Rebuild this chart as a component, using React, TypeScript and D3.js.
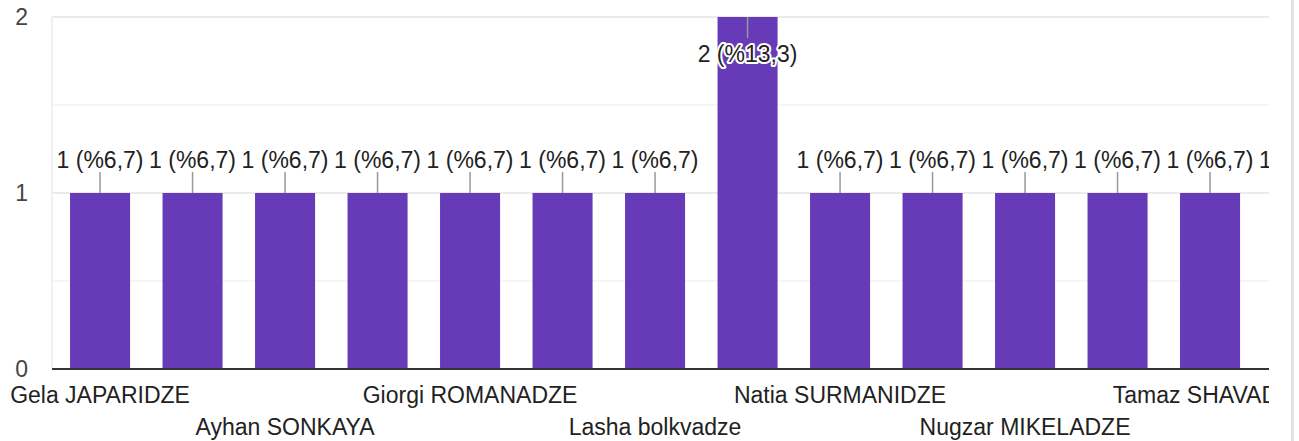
import React from "react";
import * as d3 from "d3";

const categories: string[] = [
  "Gela JAPARIDZE",
  "(2)",
  "Ayhan SONKAYA",
  "(4)",
  "Giorgi ROMANADZE",
  "(6)",
  "Lasha bolkvadze",
  "(8)",
  "Natia SURMANIDZE",
  "(10)",
  "Nugzar MIKELADZE",
  "(12)",
  "Tamaz SHAVADZE",
  "(14)",
];
const values: number[] = [1, 1, 1, 1, 1, 1, 1, 2, 1, 1, 1, 1, 1, 1];
const yTicks: number[] = [0, 1, 2];
const yMinorTicks: number[] = [0.5, 1.5];

const W = 1299;
const H = 441;
const FONT = "'Liberation Sans', Arial, sans-serif";

export default function App() {
  const total = d3.sum(values);
  const plotLeft = 52;
  const clipRight = 1269;
  const x = d3
    .scaleBand<number>()
    .domain(values.map((_, i) => i))
    .range([plotLeft, plotLeft + 92.5 * (values.length - 0.351 + 2 * 0.195)])
    .paddingInner(0.351)
    .paddingOuter(0.195);
  const y = d3.scaleLinear().domain([0, 2]).range([369, 17]);
  const bw = x.bandwidth();

  const fmt = (v: number) =>
    `${v} (%${((v / total) * 100).toFixed(1).replace(".", ",")})`;

  const T = (props: any) => {
    const { x: tx, y: ty, children, anchor = "middle", fill = "#222", halo = false } = props;
    return (
      <text
        x={tx}
        y={ty}
        textAnchor={anchor}
        fontFamily={FONT}
        fontSize={23}
        fill={fill}
        stroke={halo ? "#fff" : "none"}
        strokeWidth={halo ? 4 : 0}
        strokeLinejoin="round"
        style={{ paintOrder: "stroke" }}
      >
        {children}
      </text>
    );
  };

  return (
    <svg
      width={W}
      height={H}
      style={{ position: "absolute", left: 0, top: 0, background: "#fff" }}
    >
      <defs>
        <clipPath id="plotclip">
          <rect x={0} y={0} width={clipRight} height={H} />
        </clipPath>
      </defs>
      <rect x={0} y={0} width={W} height={H} fill="#fff" />
      {/* right border */}
      <rect x={1291} y={0} width={3} height={H} fill="#e3e3e3" />

      {/* y tick labels */}
      {yTicks.map((t) => (
        <T key={"yt" + t} x={28} y={y(t) + 8} anchor="end" fill="#444">
          {t}
        </T>
      ))}

      <g clipPath="url(#plotclip)">
        {/* left vertical gridline */}
        <line x1={plotLeft} x2={plotLeft} y1={y(2)} y2={y(0)} stroke="#ebebeb" strokeWidth={1.5} />
        {/* minor gridlines */}
        {yMinorTicks.map((t) => (
          <line key={"mg" + t} x1={plotLeft} x2={W} y1={y(t)} y2={y(t)} stroke="#f3f3f3" strokeWidth={1.5} />
        ))}
        {/* major gridlines */}
        {yTicks
          .filter((t) => t !== 0)
          .map((t) => (
            <line key={"g" + t} x1={plotLeft} x2={W} y1={y(t)} y2={y(t)} stroke="#ebebeb" strokeWidth={2} />
          ))}

        {/* bars */}
        {values.map((v, i) => (
          <rect key={"b" + i} x={x(i)} y={y(v)} width={bw} height={y(0) - y(v)} fill="#673ab7" />
        ))}

        {/* baseline */}
        <line x1={plotLeft} x2={W} y1={y(0)} y2={y(0)} stroke="#333" strokeWidth={2} />

        {/* value labels */}
        {values.map((v, i) => {
          const cx = (x(i) as number) + bw / 2;
          const top = y(v);
          const inside = top - 45 < 0;
          if (inside) {
            return (
              <g key={"v" + i}>
                <line x1={cx} x2={cx} y1={top} y2={top + 21} stroke="#999" strokeWidth={1.5} />
                <T x={cx} y={top + 45} halo>
                  {fmt(v)}
                </T>
              </g>
            );
          }
          return (
            <g key={"v" + i}>
              <line x1={cx} x2={cx} y1={top} y2={top - 21} stroke="#999" strokeWidth={1.5} />
              <T x={cx} y={top - 25} halo>
                {fmt(v)}
              </T>
            </g>
          );
        })}

        {/* category labels (every other, alternating rows) */}
        {categories.map((c, i) => {
          if (i % 2 !== 0) return null;
          const cx = (x(i) as number) + bw / 2;
          const row = (i / 2) % 2;
          return (
            <T key={"c" + i} x={cx} y={row === 0 ? 403 : 435}>
              {c}
            </T>
          );
        })}
      </g>
    </svg>
  );
}
